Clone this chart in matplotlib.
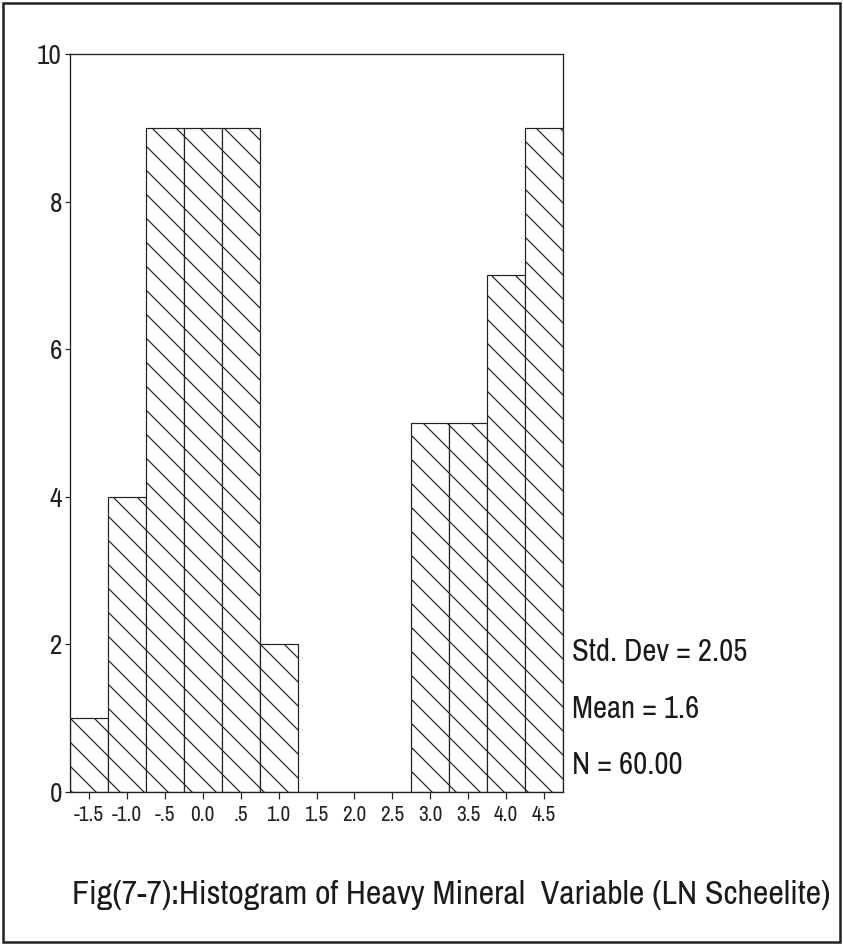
import matplotlib
matplotlib.use("Agg")
import matplotlib.pyplot as plt
from matplotlib.patches import Rectangle

bin_centers = [-1.5, -1.0, -0.5, 0.0, 0.5, 1.0, 1.5, 2.0, 2.5, 3.0, 3.5, 4.0, 4.5]
counts = [1, 4, 9, 9, 9, 2, 0, 0, 0, 5, 5, 7, 9]
x_tick_labels = ["-1.5", "-1.0", "-.5", "0.0", ".5", "1.0", "1.5", "2.0", "2.5", "3.0", "3.5", "4.0", "4.5"]
y_ticks = [0, 2, 4, 6, 8, 10]
stats_lines = ["Std. Dev = 2.05", "Mean = 1.6", "N = 60.00"]
title = "Fig(7-7):Histogram of Heavy Mineral  Variable (LN Scheelite)"

FONT = ["Archivo Narrow", "Roboto Condensed", "Liberation Sans", "DejaVu Sans"]
plt.rcParams["font.family"] = FONT
plt.rcParams["hatch.linewidth"] = 1.2

DPI = 72
fig = plt.figure(figsize=(843 / DPI, 945 / DPI), dpi=DPI)
fig.patch.set_facecolor("white")
renderer = fig.canvas.get_renderer()


def fitted_size(sample, target_px, base=30):
    t = fig.text(0, 0, sample, fontsize=base)
    w = t.get_window_extent(renderer=renderer).width
    t.remove()
    return base * target_px / w


title_size = fitted_size(title, 758)
stats_size = fitted_size(stats_lines[0], 175)
ytick_size = fitted_size("10", 25)
xtick_size = fitted_size("-1.5", 30)

ax = fig.add_axes([70 / 843, 1 - 792 / 945, (563 - 70) / 843, (792 - 54) / 945])
ax.bar(bin_centers, counts, width=0.5, color="white", edgecolor="#222222",
       linewidth=1.2, hatch="\\", zorder=2)
ax.set_xlim(-1.75, 4.75)
ax.set_ylim(0, 10)
ax.set_xticks(bin_centers)
ax.set_xticklabels(x_tick_labels, fontsize=xtick_size, color="#222222")
ax.set_yticks(y_ticks)
ax.set_yticklabels([str(v) for v in y_ticks], fontsize=ytick_size, color="#222222")
ax.tick_params(axis="x", direction="out", length=7, width=1.2, pad=6, color="#222222")
ax.tick_params(axis="y", direction="out", length=5, width=1.2, pad=3, color="#222222")
for s in ax.spines.values():
    s.set_linewidth(1.3)
    s.set_color("#222222")

ys = [652, 709, 765]
for txt, y in zip(stats_lines, ys):
    fig.text(572 / 843, 1 - y / 945, txt, fontsize=stats_size, ha="left", va="center", color="#1a1a1a")

fig.text(451 / 843, 1 - 895 / 945, title, fontsize=title_size, ha="center", va="center", color="#1a1a1a")

fig.add_artist(Rectangle((3 / 843, 3 / 945), 837 / 843, 939 / 945, transform=fig.transFigure,
                         fill=False, edgecolor="#222222", linewidth=2.5))

fig.savefig("out.png", dpi=DPI, facecolor="white")
